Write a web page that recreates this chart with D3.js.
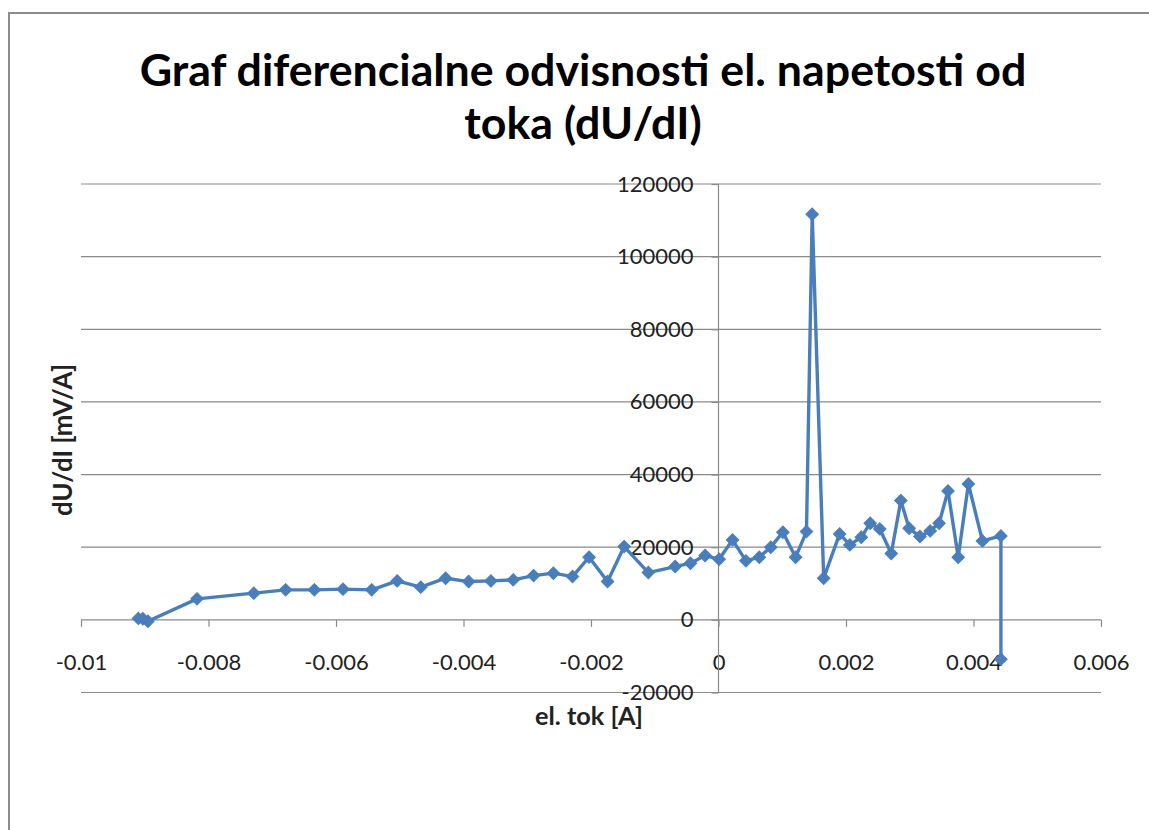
<!DOCTYPE html>
<html><head><meta charset="utf-8">
<script src="https://cdn.jsdelivr.net/npm/d3@7"></script>
<style>body{margin:0;background:#fff}svg{display:block}</style>
</head><body>
<svg id="c" width="1149" height="830"></svg>
<script>
const currents = [-0.00910,-0.00903,-0.00895,-0.00818,-0.00729,-0.00679,-0.00634,-0.00589,-0.00544,-0.00504,-0.00467,-0.00428,-0.00392,-0.00357,-0.00322,-0.00290,-0.00259,-0.00229,-0.00203,-0.00174,-0.00148,-0.00110,-0.00068,-0.00044,-0.00021,0.00001,0.00022,0.00043,0.00064,0.00082,0.00101,0.00121,0.00138,0.00147,0.00165,0.00190,0.00206,0.00224,0.00238,0.00253,0.00271,0.00286,0.00299,0.00316,0.00332,0.00346,0.00360,0.00376,0.00392,0.00414,0.00443,0.00443];
const dUdI = [400,300,-400,5780,7350,8260,8260,8450,8260,10730,9000,11470,10540,10730,11010,12190,12850,11920,17260,10540,20170,13020,14670,15600,17700,16700,22020,16240,17250,20010,24140,17250,24300,111660,11470,23670,20640,22760,26610,25040,18250,32830,25240,22930,24490,26610,35500,17250,37430,21740,23120,-10820];
const xTicks = [-0.01,-0.008,-0.006,-0.004,-0.002,0,0.002,0.004,0.006];
const yTicks = [-20000,0,20000,40000,60000,80000,100000,120000];
const titleLines = ["Graf diferencialne odvisnosti el. napetosti od","toka (dU/dI)"];
const xTitle = "el. tok [A]";
const yTitle = "dU/dI [mV/A]";

const svg = d3.select("#c");
const FONT = "Lato, 'Open Sans', sans-serif";
const x = d3.scaleLinear().domain([-0.01,0.006]).range([81,1101]);
const y = d3.scaleLinear().domain([-20000,120000]).range([692.5,184]);

function fitText(sel, target){
  const fs0 = +sel.attr("font-size");
  const w = sel.node().getComputedTextLength();
  sel.attr("font-size", fs0*target/w);
  return fs0*target/w;
}

// frame
svg.append("path").attr("d","M9,830 L9,13 L1149,13").attr("fill","none").attr("stroke","#8c8c8c").attr("stroke-width",2);

// gridlines
svg.append("g").selectAll("line").data(yTicks.filter(d=>d!==0)).join("line")
  .attr("x1",81).attr("x2",1101).attr("y1",d=>y(d)).attr("y2",d=>y(d))
  .attr("stroke","#8a8a8a").attr("stroke-width",1.2);

// x axis at y=0
const xAxis = d3.axisBottom(x).tickValues(xTicks).tickSize(7).tickFormat(d=>d===0?"0":String(d));
const gx = svg.append("g").attr("transform",`translate(0,${y(0)})`).call(xAxis);
gx.select(".domain").attr("stroke","#8a8a8a").attr("stroke-width",1.2).attr("d",`M81,0H1101`);
gx.selectAll(".tick line").attr("stroke","#8a8a8a").attr("stroke-width",1.2);
gx.selectAll(".tick text").attr("font-family",FONT).attr("font-size",22).attr("fill","#222").attr("y",35);

// y axis at x=0
const yAxis = d3.axisLeft(y).tickValues(yTicks).tickSize(7).tickPadding(18).tickFormat(d=>String(d));
const gy = svg.append("g").attr("transform",`translate(${x(0)},0)`).call(yAxis);
gy.select(".domain").attr("stroke","#8a8a8a").attr("stroke-width",1.2).attr("d",`M0,${y(120000)}V${y(-20000)}`);
gy.selectAll(".tick line").attr("stroke","#8a8a8a").attr("stroke-width",1.2);
gy.selectAll(".tick text").attr("font-family",FONT).attr("font-size",22).attr("fill","#222");

// line
const pts = currents.map((c,i)=>[c,dUdI[i]]);
svg.append("path").datum(pts)
  .attr("d",d3.line().x(d=>x(d[0])).y(d=>y(d[1])))
  .attr("fill","none").attr("stroke","#4a7ebb").attr("stroke-width",3.4).attr("stroke-linejoin","round");
svg.append("g").selectAll("path").data(pts).join("path")
  .attr("d",d3.symbol(d3.symbolSquare,78))
  .attr("transform",d=>`translate(${x(d[0])},${y(d[1])}) rotate(45)`)
  .attr("fill","#4a7ebb").attr("stroke","#4a7ebb").attr("stroke-width",1);

// title
const t1 = svg.append("text").attr("x",583).attr("y",86).attr("text-anchor","middle")
  .attr("font-family",FONT).attr("font-weight","bold").attr("font-size",36).attr("fill","#000").text(titleLines[0]);
const fs = fitText(t1, 887);
svg.append("text").attr("x",583).attr("y",139).attr("text-anchor","middle")
  .attr("font-family",FONT).attr("font-weight","bold").attr("font-size",fs).attr("fill","#000").text(titleLines[1]);

// axis titles
const xt = svg.append("text").attr("x",589).attr("y",725).attr("text-anchor","middle")
  .attr("font-family",FONT).attr("font-weight","bold").attr("font-size",18).attr("fill","#222").text(xTitle);
fitText(xt, 108);
const yt = svg.append("text").attr("transform","translate(72,440) rotate(-90)").attr("text-anchor","middle")
  .attr("font-family",FONT).attr("font-weight","bold").attr("font-size",18).attr("fill","#222").text(yTitle);
fitText(yt, 152);
</script>
</body></html>
